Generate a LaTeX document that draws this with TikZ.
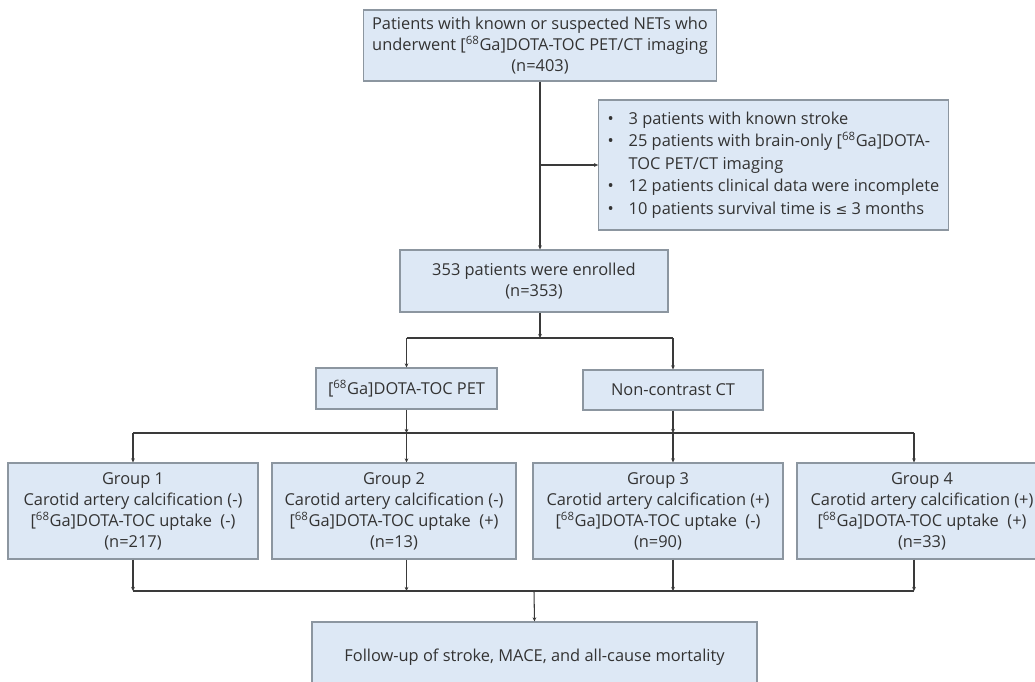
\documentclass[tikz,border=0pt]{standalone}
\usepackage{fontspec}
\setmainfont{Open Sans}
\newfontfamily\symfont{DejaVu Sans}
\usetikzlibrary{arrows.meta}
\definecolor{boxfill}{HTML}{DDE8F5}
\definecolor{boxline}{HTML}{8C96A0}
\definecolor{txtgray}{HTML}{333333}
\definecolor{lngray}{HTML}{3A3A3A}
\tikzset{
  box/.style={draw=boxline, fill=boxfill, line width=1pt, align=center, text=txtgray,
    font=\fontsize{14}{18}\selectfont, inner sep=0pt},
  conn/.style={draw=lngray, line width=0.9pt},
  arr/.style={conn, -{Stealth[length=3.5pt,width=3.2pt]}}
}
\newcommand{\Ga}{[\textsuperscript{68}Ga]}
\newcommand{\itm}{\makebox[0.63cm][l]{\textbullet}}
\newcommand{\ind}{\hspace*{0.63cm}}
\begin{document}
\begin{tikzpicture}
        \useasboundingbox (0,0) rectangle (31.05,-20.46);
        % boxes
        \node[box, minimum width=10.6cm, minimum height=2.13cm] (top) at (16.2,-1.365)
          {Patients with known or suspected NETs who\\ underwent \Ga DOTA-TOC PET/CT imaging\\ (n=403)};
        \node[box, align=left, inner xsep=0.27cm, minimum width=10.41cm, minimum height=3.9cm,
          font=\fontsize{14}{19.1}\selectfont] (excl) at (23.205,-4.95)
          {\itm 3 patients with known stroke\\
           \itm 25 patients with brain-only \Ga DOTA-\\
           \ind TOC PET/CT imaging\\
           \itm 12 patients clinical data were incomplete\\
           \itm 10 patients survival time is {\symfont\fontsize{12}{19.1}\selectfont ≤} 3 months};
        \node[box, minimum width=8.04cm, minimum height=1.86cm] (enrol) at (16.02,-8.43)
          {353 patients were enrolled\\ (n=353)};
        \node[box, minimum width=5.43cm, minimum height=1.23cm] (pet) at (12.195,-11.655)
          {\Ga DOTA-TOC PET};
        \node[box, minimum width=5.4cm, minimum height=1.2cm] (ct) at (20.19,-11.7)
          {Non-contrast CT};
        \node[box, minimum width=7.5cm, minimum height=2.88cm] (g1) at (3.99,-15.33)
          {Group 1\\ Carotid artery calcification (-)\\ \Ga DOTA-TOC uptake\ \ (-)\\ (n=217)};
        \node[box, minimum width=7.32cm, minimum height=2.88cm] (g2) at (11.82,-15.33)
          {Group 2\\ Carotid artery calcification (-)\\ \Ga DOTA-TOC uptake\ \ (+)\\ (n=13)};
        \node[box, minimum width=7.5cm, minimum height=2.88cm] (g3) at (19.74,-15.33)
          {Group 3\\ Carotid artery calcification (+)\\ \Ga DOTA-TOC uptake\ \ (-)\\ (n=90)};
        \node[box, minimum width=7.5cm, minimum height=2.88cm] (g4) at (27.66,-15.33)
          {Group 4\\ Carotid artery calcification (+)\\ \Ga DOTA-TOC uptake\ \ (+)\\ (n=33)};
        \node[box, minimum width=13.35cm, minimum height=2.1cm] (fu) at (16.035,-19.71)
          {Follow-up of stroke, MACE, and all-cause mortality};
        % define point
        \coordinate (trunk) at (top.south);
        \coordinate (split) at (16.2,-10.14);
        \coordinate (mid)   at (16.2,-12.99);
        \coordinate (low)   at (16.02,-17.73);
        \coordinate (c4)    at (27.42,-12.99);
        % connectors
        \draw[arr] (trunk) -- (trunk |- enrol.north);
        \draw[arr] (trunk |- excl.west) -- (excl.west);
        \draw[arr] (trunk |- enrol.south) -- (split);
        \draw[conn] (split -| pet.north) -- (split -| ct.north);
        \draw[arr] (split -| pet.north) -- (pet.north);
        \draw[arr] (split -| ct.north) -- (ct.north);
        \draw[arr] (pet.south) -- (mid -| pet.south);
        \draw[arr] (ct.south) -- (mid -| ct.south);
        \draw[conn] (mid -| g1.north) -- (c4);
        \draw[arr] (mid -| g1.north) -- (g1.north);
        \draw[arr] (mid -| pet.south) -- (g2.north -| pet.south);
        \draw[arr] (mid -| ct.south) -- (g3.north -| ct.south);
        \draw[arr] (c4) -- (c4 |- g4.north);
        \draw[arr] (g1.south) -- (low -| g1.south);
        \draw[arr] (g2.south -| pet.south) -- (low -| pet.south);
        \draw[arr] (g3.south -| ct.south) -- (low -| ct.south);
        \draw[arr] (c4 |- g4.south) -- (low -| c4);
        \draw[conn] (low -| g1.south) -- (low -| c4);
        \draw[arr] (low) -- (fu.north);
    \end{tikzpicture}
\end{document}
